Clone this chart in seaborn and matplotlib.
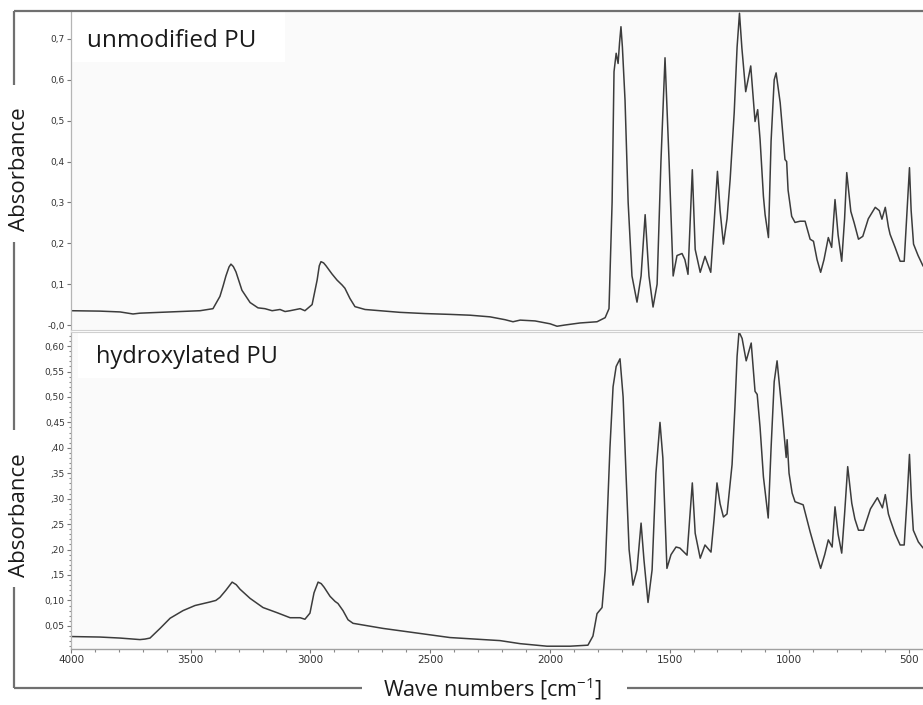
import numpy as np
import pandas as pd
import matplotlib
matplotlib.use("Agg")
import matplotlib.pyplot as plt
import seaborn as sns
from matplotlib.lines import Line2D
from matplotlib.patches import Rectangle
from matplotlib.ticker import FixedLocator, MultipleLocator

# ---------------- data ----------------
wn_top = [4000, 3879, 3795, 3741, 3712, 3628, 3545, 3461, 3407, 3378, 3365, 3353, 3340, 3332,
          3322, 3311, 3286, 3252, 3219, 3190, 3160, 3127, 3106, 3085, 3043, 3023, 2993, 2972,
          2963, 2956, 2945, 2935, 2910, 2889, 2868, 2856, 2835, 2814, 2772, 2709, 2626, 2521,
          2417, 2333, 2250, 2187, 2154, 2124, 2062, 1999, 1970, 1937, 1874, 1803, 1769, 1753,
          1740, 1732, 1723, 1715, 1709, 1703, 1697, 1686, 1673, 1657, 1636, 1619, 1602, 1586,
          1569, 1552, 1536, 1519, 1502, 1485, 1469, 1448, 1436, 1423, 1405, 1393, 1372, 1352,
          1328, 1314, 1300, 1289, 1275, 1260, 1247, 1230, 1218, 1208, 1198, 1182, 1161, 1143,
          1132, 1122, 1108, 1101, 1087, 1076, 1063, 1055, 1038, 1026, 1018, 1011, 1005, 990,
          976, 955, 934, 913, 899, 884, 869, 855, 837, 823, 809, 796, 781, 769, 760, 743, 729,
          711, 693, 670, 641, 624, 613, 599, 586, 579, 558, 537, 520, 508, 498, 491, 481, 462,
          441]
abs_top = [0.035, 0.034, 0.032, 0.027, 0.029, 0.031, 0.033, 0.035, 0.040, 0.070, 0.095, 0.120,
           0.142, 0.149, 0.143, 0.130, 0.085, 0.055, 0.042, 0.040, 0.035, 0.038, 0.033, 0.035,
           0.040, 0.035, 0.050, 0.110, 0.145, 0.155, 0.152, 0.145, 0.125, 0.110, 0.098, 0.090,
           0.065, 0.045, 0.038, 0.035, 0.031, 0.028, 0.026, 0.024, 0.020, 0.013, 0.008, 0.012,
           0.010, 0.003, -0.003, 0.000, 0.005, 0.008, 0.018, 0.040, 0.300, 0.620, 0.665, 0.640,
           0.690, 0.730, 0.680, 0.550, 0.300, 0.120, 0.056, 0.120, 0.270, 0.120, 0.044, 0.100,
           0.400, 0.654, 0.400, 0.120, 0.170, 0.175, 0.160, 0.124, 0.380, 0.185, 0.129, 0.168,
           0.129, 0.250, 0.376, 0.280, 0.198, 0.260, 0.356, 0.520, 0.680, 0.763, 0.678, 0.571,
           0.634, 0.498, 0.527, 0.454, 0.315, 0.270, 0.214, 0.450, 0.600, 0.617, 0.544, 0.460,
           0.405, 0.400, 0.330, 0.266, 0.251, 0.254, 0.254, 0.210, 0.205, 0.160, 0.129, 0.160,
           0.214, 0.190, 0.307, 0.220, 0.156, 0.260, 0.373, 0.278, 0.250, 0.210, 0.217, 0.260,
           0.288, 0.280, 0.259, 0.288, 0.240, 0.222, 0.190, 0.156, 0.156, 0.280, 0.385, 0.280,
           0.198, 0.170, 0.144]

wn_bot = [4000, 3879, 3795, 3712, 3691, 3670, 3628, 3586, 3532, 3482, 3419, 3395, 3378, 3353,
          3327, 3310, 3294, 3252, 3198, 3140, 3085, 3043, 3023, 3002, 2985, 2968, 2955, 2943,
          2918, 2897, 2885, 2864, 2843, 2822, 2697, 2542, 2417, 2208, 2124, 2012, 1916, 1841,
          1820, 1803, 1782, 1769, 1761, 1749, 1736, 1723, 1707, 1694, 1682, 1669, 1653, 1636,
          1619, 1607, 1590, 1573, 1557, 1540, 1528, 1511, 1494, 1473, 1457, 1427, 1405, 1393,
          1372, 1352, 1327, 1314, 1302, 1289, 1275, 1260, 1239, 1227, 1218, 1210, 1197, 1180,
          1159, 1143, 1134, 1122, 1108, 1100, 1088, 1076, 1063, 1051, 1030, 1013, 1009, 1001,
          988, 976, 942, 913, 892, 869, 852, 837, 821, 809, 796, 781, 769, 756, 739, 726, 711,
          690, 661, 632, 611, 599, 586, 578, 557, 537, 520, 508, 498, 490, 482, 461, 441]
abs_bot = [0.029, 0.028, 0.026, 0.023, 0.024, 0.026, 0.045, 0.065, 0.080, 0.090, 0.097, 0.100,
           0.106, 0.120, 0.136, 0.131, 0.122, 0.104, 0.086, 0.076, 0.066, 0.066, 0.063, 0.075,
           0.115, 0.136, 0.133, 0.126, 0.108, 0.098, 0.094, 0.080, 0.062, 0.055, 0.045, 0.035,
           0.027, 0.021, 0.015, 0.010, 0.010, 0.012, 0.030, 0.074, 0.086, 0.159, 0.258, 0.400,
           0.520, 0.560, 0.575, 0.500, 0.350, 0.200, 0.130, 0.160, 0.252, 0.180, 0.096, 0.160,
           0.350, 0.450, 0.380, 0.163, 0.190, 0.205, 0.203, 0.189, 0.331, 0.232, 0.183, 0.209,
           0.195, 0.260, 0.331, 0.290, 0.264, 0.270, 0.367, 0.480, 0.580, 0.628, 0.615, 0.571,
           0.606, 0.511, 0.505, 0.440, 0.343, 0.310, 0.262, 0.400, 0.530, 0.571, 0.470, 0.381,
           0.416, 0.350, 0.311, 0.294, 0.288, 0.235, 0.200, 0.163, 0.190, 0.219, 0.205, 0.284,
           0.230, 0.193, 0.270, 0.363, 0.291, 0.260, 0.238, 0.238, 0.280, 0.302, 0.282, 0.308,
           0.270, 0.258, 0.230, 0.209, 0.209, 0.300, 0.387, 0.300, 0.238, 0.215, 0.203]

x_ticks = [4000, 3500, 3000, 2500, 2000, 1500, 1000, 500]
x_tick_labels = ["4000", "3500", "3000", "2500", "2000", "1500", "1000", "500"]
y_ticks_top = [0.0, 0.1, 0.2, 0.3, 0.4, 0.5, 0.6, 0.7]
y_tick_labels_top = ["-0,0", "0,1", "0,2", "0,3", "0,4", "0,5", "0,6", "0,7"]
y_ticks_bot = [0.05, 0.10, 0.15, 0.20, 0.25, 0.30, 0.35, 0.40, 0.45, 0.50, 0.55, 0.60]
y_tick_labels_bot = ["0,05", "0,10", ",15", ",20", ",25", ",30", ",35", ",40",
                     "0,45", "0,50", "0,55", "0,60"]
panel_titles = ["unmodified PU", "hydroxylated PU"]
y_label = "Absorbance"
x_label = "Wave numbers [cm$^{\\mathregular{-1}}$]"

# ---------------- style ----------------
sns.set_style("white")
plt.rcParams['font.family'] = ['Open Sans', 'DejaVu Sans']
plt.rcParams['mathtext.default'] = 'regular'

W, H = 923, 705
fig = plt.figure(figsize=(W / 100, H / 100), dpi=100)
fig.patch.set_facecolor("white")


def px_axes(l, t, r, b):
    return fig.add_axes([l / W, 1 - b / H, (r - l) / W, (b - t) / H])


ax1 = px_axes(71, 12, 923, 330)
ax2 = px_axes(71, 332, 923, 649)

LINE = "#3c3c3c"
df_top = pd.DataFrame({"wn": wn_top, "A": abs_top})
df_bot = pd.DataFrame({"wn": wn_bot, "A": abs_bot})
sns.lineplot(data=df_top, x="wn", y="A", ax=ax1, color=LINE, lw=1.1, estimator=None)
sns.lineplot(data=df_bot, x="wn", y="A", ax=ax2, color=LINE, lw=1.1, estimator=None)

tick_font = ['Liberation Sans Narrow', 'DejaVu Sans']
for ax in (ax1, ax2):
    ax.set_facecolor("#fafafa")
    ax.set_xlim(4000, 441.5)
    ax.set_xlabel("")
    ax.set_ylabel("")
    ax.spines["right"].set_visible(False)
    ax.spines["left"].set_color("#b5b5b5")
    ax.spines["left"].set_linewidth(0.9)

ax1.set_ylim(-0.0122, 0.766)
ax2.set_ylim(0.0045, 0.6277)

ax1.spines["top"].set_visible(False)
ax1.spines["bottom"].set_color("#d0d0d0")
ax2.spines["top"].set_color("#d0d0d0")
ax2.spines["bottom"].set_color("#a0a0a0")
ax2.spines["bottom"].set_linewidth(1.0)

ax1.set_xticks([])
ax1.yaxis.set_major_locator(FixedLocator(y_ticks_top))
ax1.set_yticklabels(y_tick_labels_top, family=tick_font, fontsize=6.5, color="#333333")
ax1.tick_params(axis="y", left=True, length=3, width=0.8, color="#777777", pad=1.5)

ax2.xaxis.set_major_locator(FixedLocator(x_ticks))
ax2.set_xticklabels(x_tick_labels, family=tick_font, fontsize=7.5, color="#333333")
ax2.xaxis.set_minor_locator(MultipleLocator(100))
ax2.yaxis.set_major_locator(FixedLocator(y_ticks_bot))
ax2.set_yticklabels(y_tick_labels_bot, family=tick_font, fontsize=6.5, color="#333333")
ax2.yaxis.set_minor_locator(MultipleLocator(0.01))
ax2.tick_params(axis="both", which="major", left=True, bottom=True, length=3,
                width=0.8, color="#777777", pad=1.5)
ax2.tick_params(axis="both", which="minor", left=True, bottom=True, length=1.8,
                width=0.8, color="#888888")


# white boxes behind panel titles
def box(ax, l, t, r, b):
    inv = ax.transAxes.inverted()
    (x0, y0) = inv.transform((l, H - b))
    (x1, y1) = inv.transform((r, H - t))
    ax.add_patch(Rectangle((x0, y0), x1 - x0, y1 - y0, transform=ax.transAxes,
                           facecolor="white", edgecolor="none", zorder=0.5))


fig.canvas.draw()
box(ax1, 71, 12, 285, 62)
box(ax2, 78, 332, 270, 378)

fig.text(87 / W, 1 - 41 / H, panel_titles[0], fontsize=17.5, color="#1a1a1a",
         ha="left", va="center")
fig.text(96 / W, 1 - 357 / H, panel_titles[1], fontsize=17, color="#1a1a1a",
         ha="left", va="center")

# y labels
fig.text(20 / W, 1 - 169 / H, y_label, rotation=90, fontsize=16, color="#1a1a1a",
         ha="center", va="center")
fig.text(20 / W, 1 - 515 / H, y_label, rotation=90, fontsize=16, color="#1a1a1a",
         ha="center", va="center")
# x label
fig.text(492 / W, 1 - 689 / H, x_label, fontsize=15.5, color="#1a1a1a",
         ha="center", va="center")

# outer frame with gaps for labels
FR = "#707070"


def seg(x0, y0, x1, y1):
    fig.add_artist(Line2D([x0 / W, x1 / W], [1 - y0 / H, 1 - y1 / H],
                          transform=fig.transFigure, color=FR, lw=1.6,
                          solid_capstyle="butt"))


seg(14, 11, 923, 11)
seg(14, 11, 14, 85)
seg(14, 242, 14, 430)
seg(14, 587, 14, 688)
seg(14, 688, 362, 688)
seg(627, 688, 923, 688)

fig.savefig("out.png", dpi=100, facecolor="white")
